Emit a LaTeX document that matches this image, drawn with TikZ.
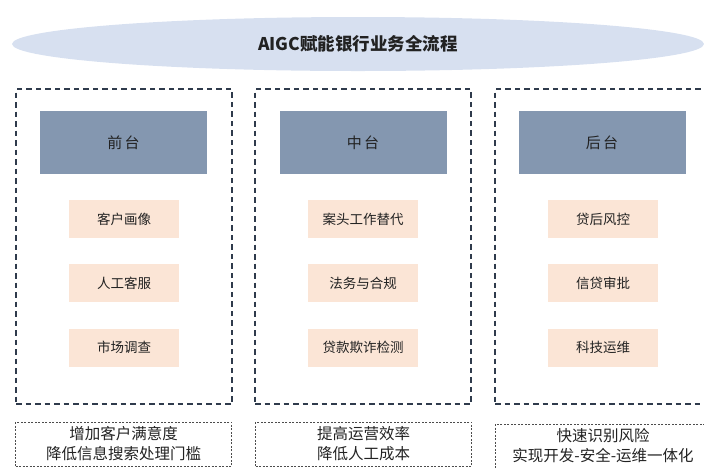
\documentclass[tikz,border=0pt]{standalone}
\usepackage{fontspec}
\setmainfont{Noto Sans CJK SC}
\usetikzlibrary{shapes.geometric}
\definecolor{ellfill}{HTML}{D7E0F0}
\definecolor{hdrfill}{HTML}{8497B0}
\definecolor{peach}{HTML}{FBE5D6}
\definecolor{navy}{HTML}{2F3B4C}
\definecolor{txt}{HTML}{222222}
\tikzset{
  titleell/.style={ellipse, fill=ellfill, draw=none, minimum width=692pt, minimum height=54pt, inner sep=0pt,
    font=\fontsize{17.5}{19}\selectfont\bfseries, text=txt},
  bigbox/.style={draw=navy, line width=1.4pt, dash pattern=on 5.5pt off 4pt, minimum width=216pt, minimum height=315pt, inner sep=0pt},
  hdr/.style={fill=hdrfill, minimum width=167pt, minimum height=63pt, inner sep=0pt, font=\fontsize{15}{17}\selectfont, text=txt},
  item/.style={fill=peach, minimum width=110pt, minimum height=38pt, inner sep=0pt, font=\fontsize{13.5}{15}\selectfont, text=txt},
  sumbox/.style={draw=black!70, line width=0.7pt, dash pattern=on 2pt off 1.5pt, minimum width=216pt, inner sep=0pt,
    align=center, font=\fontsize{15.5}{20}\selectfont, text=txt}
}
\begin{document}
\begin{tikzpicture}[x=1pt,y=-1pt]
\useasboundingbox (0,0) rectangle (704,467);
\clip (0,0) rectangle (704,467);
\node[titleell] (title) at (358,44) {AIGC赋能银行业务全流程};

\node[bigbox] (front) at (124,246.5) {};
\node[bigbox] (middle) at (363,246.5) {};
\node[bigbox] (back) at (603,246.5) {};

\node[hdr] (h1) at (123.5,142.5) {前\,台};
\node[hdr] (h2) at (363,142.5) {中\,台};
\node[hdr] (h3) at (602,142.5) {后\,台};

\node[item] (a1) at (124,219) {客户画像};
\node[item] (a2) at (124,283) {人工客服};
\node[item] (a3) at (124,347.5) {市场调查};
\node[item] (b1) at (363,219) {案头工作替代};
\node[item] (b2) at (363,283) {法务与合规};
\node[item] (b3) at (363,347.5) {贷款欺诈检测};
\node[item] (c1) at (603,219) {贷后风控};
\node[item] (c2) at (603,283) {信贷审批};
\node[item] (c3) at (603,347.5) {科技运维};

\node[sumbox, minimum height=44pt] (s1) at (123.5,444) {增加客户满意度\\降低信息搜索处理门槛};
\node[sumbox, minimum height=44pt] (s2) at (363.5,444) {提高运营效率\\降低人工成本};
\node[sumbox, minimum height=44pt] (s3) at (603,446) {快速识别风险\\实现开发-安全-运维一体化};
\end{tikzpicture}
\end{document}
